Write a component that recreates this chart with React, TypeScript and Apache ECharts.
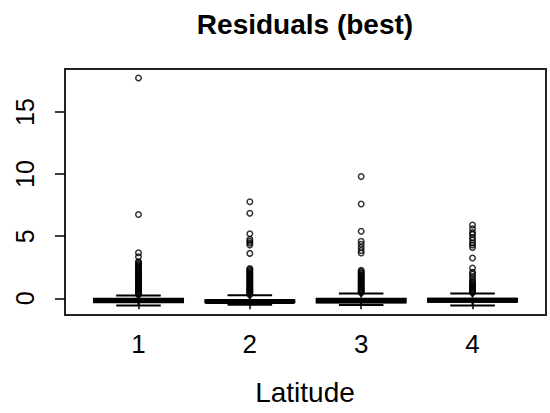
import React, { useEffect, useRef } from "react";
import * as echarts from "echarts";

const groups = [1, 2, 3, 4];
const tickLabelsY = [0, 5, 10, 15];
// [position, lowerWhisker, Q1, median, Q3, upperWhisker]
const boxStats = [
  [1, -0.58, -0.32, -0.17, -0.03, 0.23],
  [2, -0.51, -0.32, -0.25, -0.16, 0.25],
  [3, -0.54, -0.34, -0.2, -0.03, 0.39],
  [4, -0.58, -0.27, -0.15, -0.03, 0.39],
];
const outliers1 = [0.3, 0.38, 0.45, 0.52, 0.6, 0.68, 0.75, 0.83, 0.9, 0.98, 1.05, 1.13, 1.2, 1.28, 1.35, 1.43, 1.5, 1.6, 1.7, 1.78, 1.85, 1.95, 2.05, 2.12, 2.2, 2.3, 2.38, 2.5, 2.6, 2.68, 2.78, 2.88, 2.95, 3.35, 3.67, 6.75, 17.73];
const outliers2 = [0.3, 0.37, 0.45, 0.53, 0.6, 0.68, 0.76, 0.83, 0.9, 0.98, 1.06, 1.14, 1.22, 1.3, 1.38, 1.46, 1.55, 1.63, 1.72, 1.8, 1.88, 1.97, 2.06, 2.15, 2.24, 2.32, 2.4, 3.62, 4.3, 4.45, 4.6, 4.75, 5.2, 6.85, 7.77];
const outliers3 = [0.45, 0.52, 0.6, 0.68, 0.75, 0.83, 0.9, 0.98, 1.06, 1.14, 1.22, 1.3, 1.38, 1.46, 1.55, 1.63, 1.72, 1.8, 1.88, 1.97, 2.06, 2.15, 2.25, 3.65, 3.85, 4.1, 4.35, 4.6, 5.4, 7.6, 9.8];
const outliers4 = [0.45, 0.52, 0.6, 0.68, 0.76, 0.84, 0.92, 1.0, 1.08, 1.17, 1.25, 1.4, 1.55, 1.75, 1.95, 2.1, 2.45, 3.25, 4.1, 4.3, 4.45, 4.7, 4.9, 5.15, 5.3, 5.6, 5.9];

const FONT = "'Liberation Sans', Arial, sans-serif";

export default function App() {
  const ref = useRef<HTMLDivElement>(null);
  useEffect(() => {
    if (!ref.current) return;
    document.body.style.margin = "0";
    const chart = echarts.init(ref.current, undefined, { renderer: "svg" });
    const outlierData: number[][] = [];
    [outliers1, outliers2, outliers3, outliers4].forEach((arr, i) => {
      arr.forEach((v) => outlierData.push([groups[i], v]));
    });
    chart.setOption({
      animation: false,
      backgroundColor: "#fff",
      grid: {
        left: 65,
        right: 4,
        top: 69,
        bottom: 98,
        show: true,
        borderColor: "#222",
        borderWidth: 2,
        backgroundColor: "transparent",
      },
      graphic: [
        {
          type: "text",
          x: 305,
          y: 24,
          style: {
            text: "Residuals (best)",
            font: `bold 28px ${FONT}`,
            fill: "#000",
            align: "center",
            verticalAlign: "middle",
          },
        },
        {
          type: "text",
          x: 305,
          y: 392,
          style: {
            text: "Latitude",
            font: `28px ${FONT}`,
            fill: "#000",
            align: "center",
            verticalAlign: "middle",
          },
        },
      ],
      xAxis: {
        type: "value",
        min: 0.34,
        max: 4.66,
        axisLine: { show: false },
        splitLine: { show: false },
        axisTick: {
          show: true,
          length: 11,
          customValues: groups,
          lineStyle: { color: "#000", width: 1.5 },
        },
        axisLabel: {
          customValues: groups,
          fontSize: 26,
          fontFamily: FONT,
          color: "#000",
          margin: 16,
        },
      },
      yAxis: {
        type: "value",
        min: -1.34,
        max: 18.46,
        axisLine: { show: false },
        splitLine: { show: false },
        axisTick: {
          show: true,
          length: 10,
          customValues: tickLabelsY,
          lineStyle: { color: "#000", width: 1.5 },
        },
        axisLabel: {
          customValues: tickLabelsY,
          fontSize: 25,
          fontFamily: FONT,
          color: "#000",
          rotate: 90,
          margin: 28,
          align: "center",
          verticalAlign: "bottom",
        },
      },
      series: [
        {
          type: "custom",
          data: boxStats,
          renderItem: (params: any, api: any) => {
            const x = api.value(0);
            const lo = api.coord([x, api.value(1)]);
            const q1 = api.coord([x, api.value(2)]);
            const med = api.coord([x, api.value(3)]);
            const q3 = api.coord([x, api.value(4)]);
            const hi = api.coord([x, api.value(5)]);
            const bw = api.size([0.8, 0])[0];
            const cw = bw / 2;
            const cx = lo[0];
            const st = { stroke: "#000", lineWidth: 2 };
            return {
              type: "group",
              children: [
                { type: "line", shape: { x1: cx, y1: hi[1], x2: cx, y2: q3[1] }, style: { ...st, lineDash: [4, 3] } },
                { type: "line", shape: { x1: cx, y1: lo[1], x2: cx, y2: q1[1] }, style: { ...st, lineDash: [4, 3] } },
                { type: "line", shape: { x1: cx - cw / 2, y1: hi[1], x2: cx + cw / 2, y2: hi[1] }, style: st },
                { type: "line", shape: { x1: cx - cw / 2, y1: lo[1], x2: cx + cw / 2, y2: lo[1] }, style: st },
                {
                  type: "rect",
                  shape: { x: cx - bw / 2, y: q3[1], width: bw, height: q1[1] - q3[1] },
                  style: { fill: "#000", stroke: "#000", lineWidth: 2 },
                },
                { type: "line", shape: { x1: cx - bw / 2, y1: med[1], x2: cx + bw / 2, y2: med[1] }, style: { stroke: "#000", lineWidth: 5 } },
              ],
            };
          },
          z: 2,
        },
        {
          type: "scatter",
          data: outlierData,
          symbol: "circle",
          symbolSize: 5.5,
          itemStyle: { color: "rgba(0,0,0,0)", borderColor: "#000", borderWidth: 1.5 },
          z: 3,
        },
      ],
    });
    return () => chart.dispose();
  }, []);
  return <div ref={ref} style={{ width: 550, height: 413 }} />;
}
